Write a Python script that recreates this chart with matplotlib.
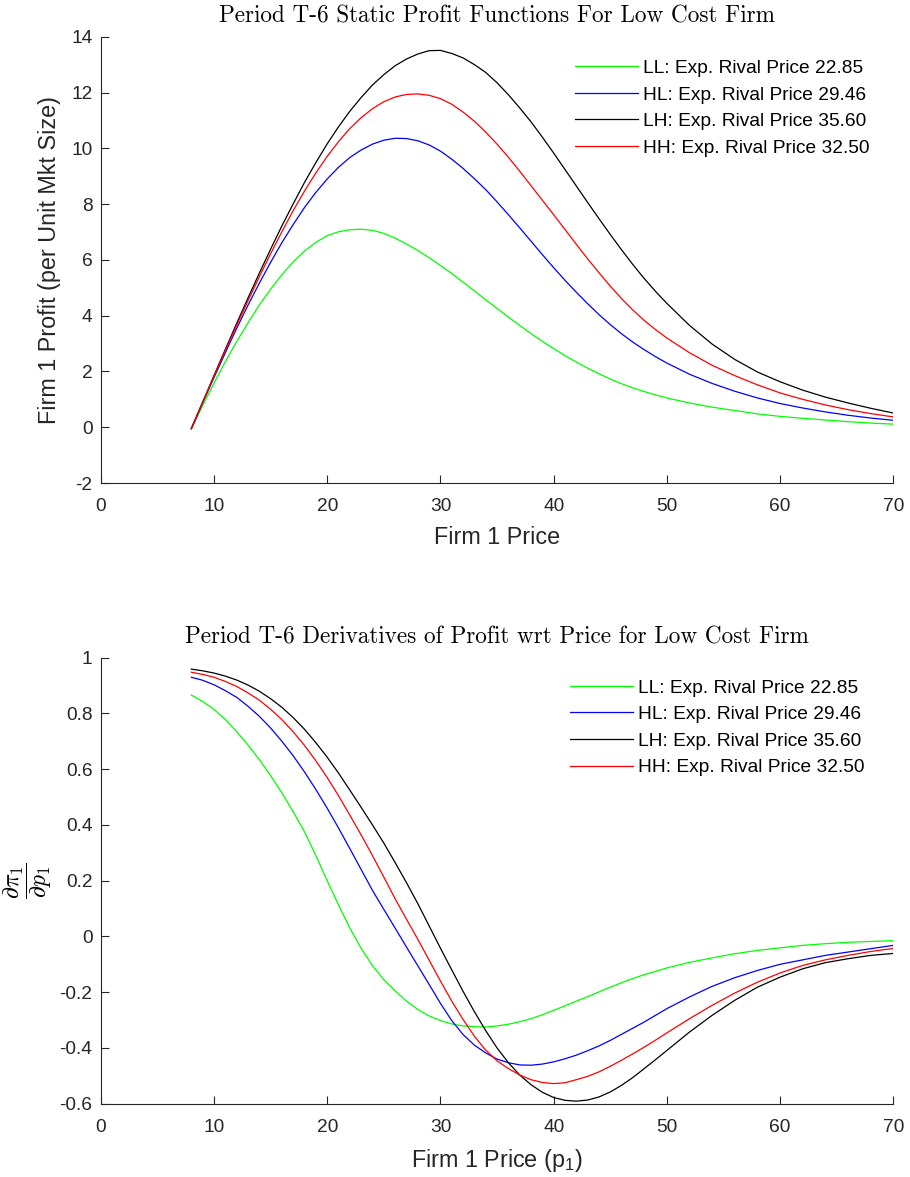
import numpy as np
import matplotlib.pyplot as plt

plt.rcParams['font.family'] = ['Liberation Sans', 'DejaVu Sans']
plt.rcParams['axes.unicode_minus'] = False
plt.rcParams['mathtext.fontset'] = 'custom'
plt.rcParams['mathtext.rm'] = 'Liberation Sans'
plt.rcParams['mathtext.it'] = 'Liberation Sans:italic'

# firm 1 price grid (finer where the curves bend)
price = [8, 9, 10, 11, 12, 13, 14, 15, 16, 17, 18, 19, 20, 21, 22, 23, 24, 25, 26, 27, 28, 29,
         30, 31, 32, 33, 34, 35, 36, 37, 38, 39, 40, 41, 42, 43, 44, 45, 46, 47, 48, 49, 50,
         52, 54, 56, 58, 60, 62, 64, 66, 68, 70]

# static profit per unit market size, one series per expected rival price
profit_LL = [-0.05, 0.78, 1.58, 2.35, 3.07, 3.74, 4.38, 4.95, 5.47, 5.93, 6.32, 6.63, 6.87, 7.01, 7.08, 7.10, 7.06, 6.95,
             6.78, 6.57, 6.34, 6.08, 5.80, 5.51, 5.20, 4.89, 4.57, 4.26, 3.95, 3.65, 3.36, 3.08, 2.82, 2.57,
             2.34, 2.12, 1.92, 1.73, 1.56, 1.41, 1.28, 1.16, 1.05,
             0.87, 0.72, 0.60, 0.48, 0.39, 0.32, 0.26, 0.20, 0.15, 0.11]
profit_HL = [-0.05, 0.88, 1.78, 2.67, 3.54, 4.37, 5.16, 5.91, 6.62, 7.27, 7.88, 8.42, 8.90, 9.32, 9.67, 9.94, 10.15, 10.29,
             10.36, 10.35, 10.27, 10.12, 9.90, 9.61, 9.28, 8.91, 8.52, 8.08, 7.62, 7.15, 6.67, 6.19, 5.72, 5.27,
             4.84, 4.43, 4.04, 3.68, 3.35, 3.05, 2.78, 2.53, 2.30,
             1.90, 1.57, 1.29, 1.05, 0.85, 0.69, 0.55, 0.43, 0.33, 0.25]
profit_LH = [-0.05, 0.90, 1.85, 2.79, 3.72, 4.63, 5.52, 6.38, 7.22, 8.01, 8.78, 9.49, 10.16, 10.77, 11.33, 11.82, 12.27, 12.64,
             12.96, 13.20, 13.38, 13.50, 13.51, 13.40, 13.24, 13.00, 12.72, 12.35, 11.92, 11.45, 10.95, 10.40, 9.83, 9.24,
             8.65, 8.06, 7.48, 6.91, 6.36, 5.83, 5.33, 4.87, 4.44,
             3.65, 2.98, 2.43, 1.98, 1.63, 1.33, 1.08, 0.87, 0.68, 0.51]
profit_HH = [-0.05, 0.89, 1.83, 2.75, 3.65, 4.53, 5.39, 6.22, 7.01, 7.77, 8.47, 9.12, 9.71, 10.24, 10.71, 11.10, 11.42, 11.67,
             11.84, 11.93, 11.95, 11.90, 11.78, 11.58, 11.30, 10.97, 10.58, 10.15, 9.68, 9.18, 8.66, 8.14, 7.62, 7.09,
             6.56, 6.04, 5.54, 5.06, 4.61, 4.20, 3.83, 3.50, 3.20,
             2.67, 2.22, 1.85, 1.52, 1.23, 1.00, 0.80, 0.63, 0.49, 0.37]

# derivative of profit wrt own price
deriv_LL = [0.866, 0.843, 0.815, 0.778, 0.735, 0.687, 0.635, 0.577, 0.515, 0.447, 0.375, 0.290, 0.200, 0.113, 0.030, -0.043,
            -0.105, -0.155, -0.195, -0.232, -0.262, -0.285, -0.302, -0.314, -0.321, -0.324, -0.325, -0.321, -0.315, -0.306,
            -0.295, -0.281, -0.265, -0.249, -0.232, -0.216, -0.199, -0.182, -0.166, -0.151, -0.137, -0.125, -0.113,
            -0.093, -0.077, -0.062, -0.050, -0.041, -0.032, -0.026, -0.021, -0.018, -0.015]
deriv_HL = [0.930, 0.919, 0.903, 0.882, 0.858, 0.826, 0.790, 0.748, 0.700, 0.648, 0.590, 0.527, 0.460, 0.389, 0.315, 0.240,
            0.165, 0.097, 0.030, -0.038, -0.105, -0.172, -0.240, -0.302, -0.352, -0.390, -0.418, -0.440, -0.453, -0.461,
            -0.462, -0.458, -0.450, -0.439, -0.426, -0.410, -0.393, -0.373, -0.351, -0.329, -0.307, -0.283, -0.259,
            -0.217, -0.179, -0.148, -0.122, -0.100, -0.084, -0.068, -0.056, -0.044, -0.032]
deriv_LH = [0.959, 0.953, 0.945, 0.934, 0.920, 0.902, 0.880, 0.853, 0.822, 0.785, 0.743, 0.695, 0.643, 0.586, 0.525, 0.463,
            0.400, 0.335, 0.265, 0.193, 0.118, 0.038, -0.042, -0.120, -0.197, -0.270, -0.338, -0.400, -0.453, -0.497,
            -0.532, -0.559, -0.578, -0.588, -0.591, -0.587, -0.576, -0.558, -0.534, -0.506, -0.474, -0.442, -0.409,
            -0.343, -0.283, -0.229, -0.182, -0.146, -0.116, -0.094, -0.080, -0.068, -0.061]
deriv_HH = [0.948, 0.940, 0.930, 0.915, 0.897, 0.874, 0.848, 0.815, 0.778, 0.734, 0.685, 0.630, 0.570, 0.505, 0.435, 0.364,
            0.290, 0.213, 0.135, 0.062, -0.010, -0.085, -0.160, -0.232, -0.298, -0.358, -0.408, -0.446, -0.474, -0.497,
            -0.514, -0.524, -0.528, -0.525, -0.514, -0.502, -0.486, -0.466, -0.444, -0.421, -0.397, -0.372, -0.346,
            -0.295, -0.247, -0.203, -0.164, -0.131, -0.104, -0.084, -0.068, -0.054, -0.043]

labels = ['LL: Exp. Rival Price 22.85', 'HL: Exp. Rival Price 29.46',
          'LH: Exp. Rival Price 35.60', 'HH: Exp. Rival Price 32.50']
colors = ['#00ff00', '#0000ff', '#000000', '#ff0000']

xticks = [0, 10, 20, 30, 40, 50, 60, 70]
yticks_top = [-2, 0, 2, 4, 6, 8, 10, 12, 14]
yticks_bot = [-0.6, -0.4, -0.2, 0, 0.2, 0.4, 0.6, 0.8, 1]
ytick_labels_bot = ['-0.6', '-0.4', '-0.2', '0', '0.2', '0.4', '0.6', '0.8', '1']

axis_col = '#262626'
fs = 13.8

fig = plt.figure(figsize=(9.1, 11.77), dpi=100)
ax1 = fig.add_axes([0.1107, 0.5896, 0.8710, 0.3792])
ax2 = fig.add_axes([0.1107, 0.0623, 0.8710, 0.3789])


def style(ax):
    for s in ['top', 'right']:
        ax.spines[s].set_visible(False)
    for s in ['left', 'bottom']:
        ax.spines[s].set_color(axis_col)
        ax.spines[s].set_linewidth(0.8)
    ax.tick_params(direction='in', length=6, width=0.8, colors=axis_col,
                   labelsize=fs, pad=6)
    ax.tick_params(axis='x', pad=11)
    ax.set_xlim(0, 70)
    ax.set_xticks(xticks)
    ax.set_xticklabels([str(t) for t in xticks])


# top panel: profit curves
for y, c, lab in zip([profit_LL, profit_HL, profit_LH, profit_HH], colors, labels):
    ax1.plot(price, y, color=c, lw=0.9, label=lab)
style(ax1)
ax1.set_ylim(-2, 14)
ax1.set_yticks(yticks_top)
ax1.set_yticklabels([str(t) for t in yticks_top])
ax1.set_title('Period T-6 Static Profit Functions For Low Cost Firm',
              fontfamily='cmr10', fontsize=16.7, pad=10)
ax1.set_xlabel('Firm 1 Price', fontsize=16.8, color=axis_col, labelpad=8)
ax1.set_ylabel('Firm 1 Profit (per Unit Mkt Size)', fontsize=16.8, color=axis_col, labelpad=7)
ax1.legend(loc='upper left', bbox_to_anchor=(0.598, 0.949), frameon=False,
           fontsize=fs, handlelength=3.3, handletextpad=0.26, labelspacing=0.48,
           borderpad=0, borderaxespad=0)

# bottom panel: derivatives
for y, c, lab in zip([deriv_LL, deriv_HL, deriv_LH, deriv_HH], colors, labels):
    ax2.plot(price, y, color=c, lw=0.9, label=lab)
style(ax2)
ax2.set_ylim(-0.6, 1)
ax2.set_yticks(yticks_bot)
ax2.set_yticklabels(ytick_labels_bot)
ax2.set_title('Period T-6 Derivatives of Profit wrt Price for Low Cost Firm',
              fontfamily='cmr10', fontsize=16.7, pad=10)
ax2.set_xlabel(r'Firm 1 Price (p$_{\mathrm{1}}$)', fontsize=16.8, color=axis_col, labelpad=8)
ax2.set_ylabel(r'$\dfrac{\partial \pi_1}{\partial p_1}$', fontsize=17,
               math_fontfamily='cm', color='black', labelpad=4)
ax2.legend(loc='upper left', bbox_to_anchor=(0.592, 0.952), frameon=False,
           fontsize=fs, handlelength=3.3, handletextpad=0.26, labelspacing=0.48,
           borderpad=0, borderaxespad=0)

fig.savefig('out.png', dpi=100)
